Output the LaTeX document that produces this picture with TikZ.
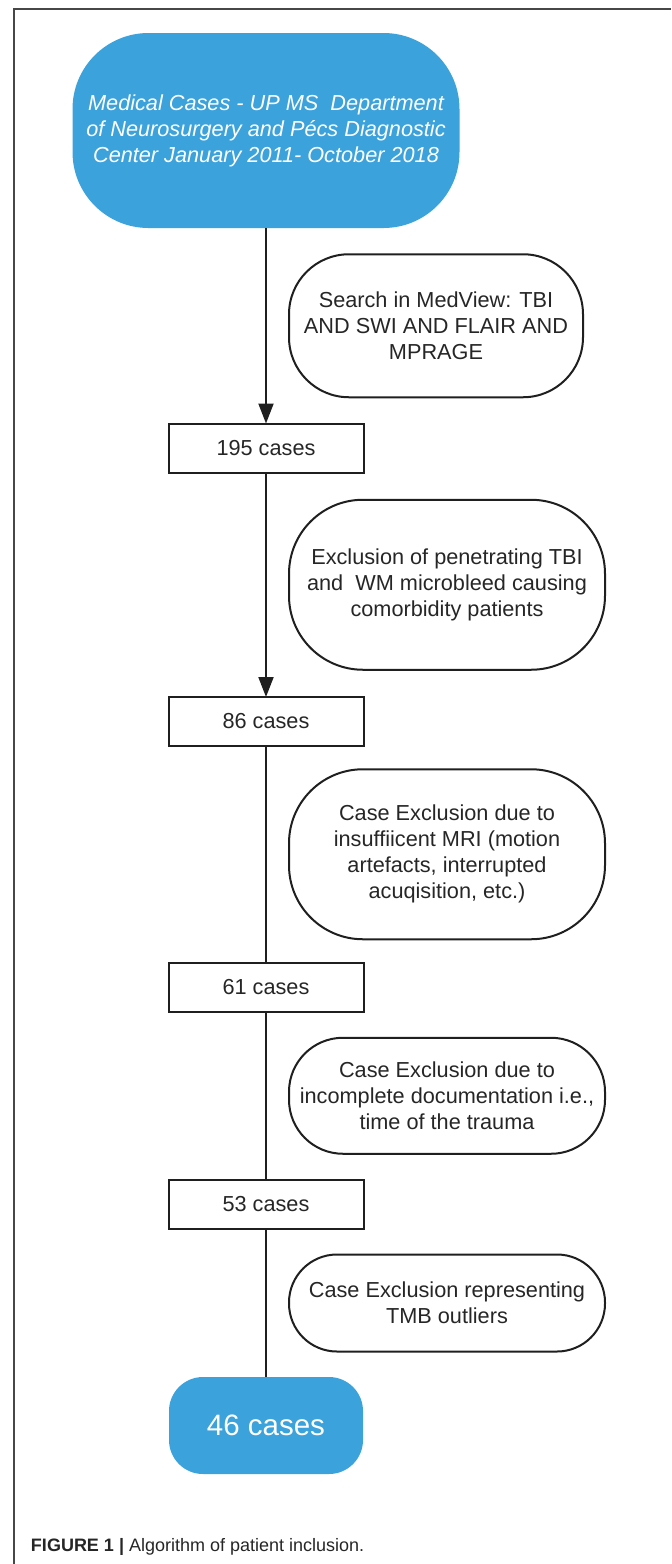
\documentclass[tikz,border=0pt]{standalone}
\usepackage{fontspec}
\setmainfont{Liberation Sans}
\usetikzlibrary{positioning,arrows.meta}
\definecolor{caseBlue}{RGB}{59,162,220}
\colorlet{flowLine}{black!88}
\colorlet{flowText}{black!85}
\colorlet{frameLine}{black!72}

\begin{document}
\begin{tikzpicture}[
  x=0.5pt,
  y=-0.5pt,
  every node/.style={
    font=\fontsize{10.85pt}{13pt}\selectfont,
    text=flowText,
    align=center,
    inner sep=0pt,
    outer sep=0pt,
  },
  terminal/.style={
    fill=caseBlue,
    text=white,
    rounded corners=#1,
  },
  count box/.style={
    draw=flowLine,
    line width=1pt,
    minimum width=97.5pt,
    minimum height=24.5pt,
  },
  filter note/.style={
    draw=flowLine,
    line width=1pt,
    minimum width=158pt,
    rounded corners=#1,
  },
  flow/.style={
    draw=flowLine,
    line width=1pt,
  },
  flow arrow/.style={
    flow,
    -{Triangle[length=10pt,width=7.5pt]},
  }
]
\useasboundingbox (0,0) rectangle (671,1564);
\draw[frameLine,line width=1.2pt] (14,1564) -- (14,9) -- (671,9);

\node[terminal=38pt,minimum width=193.5pt,minimum height=97.5pt,
  font=\itshape\fontsize{10.85pt}{13pt}\selectfont] (source) at (266,130.5)
  {Medical Cases - UP MS\ \ Department\\of Neurosurgery and Pécs Diagnostic\\Center January 2011- October 2018};
\node[count box,below=97.75pt of source] (c195) {195 cases};
\node[count box,below=112.25pt of c195] (c86) {86 cases};
\node[count box,below=108.25pt of c86] (c61) {61 cases};
\node[count box,below=84.25pt of c61] (c53) {53 cases};
\node[terminal=17pt,minimum width=97pt,minimum height=48.5pt,
  font=\fontsize{14.75pt}{17pt}\selectfont,below=74pt of c53] (c46) {46 cases};

\draw[flow arrow] (source) -- node[filter note=30pt,minimum width=147pt,minimum height=71.5pt,right=11.5pt] (search)
  {Search in MedView: TBI\\AND SWI AND FLAIR AND\\MPRAGE} (c195);
\draw[flow arrow] (c195) -- node[filter note=37pt,minimum height=85pt,right=11.5pt] (penetrating)
  {Exclusion of penetrating TBI\\and\ \ WM microbleed causing\\comorbidity patients} (c86);
\draw[flow] (c86) -- node[filter note=37pt,minimum height=85pt,right=11.5pt] (insufficient)
  {Case Exclusion due to\\insuffiicent MRI (motion\\artefacts, interrupted\\acuqisition, etc.)} (c61);
\draw[flow] (c61) -- node[filter note=27pt,minimum height=58pt,right=11.5pt] (documentation)
  {Case Exclusion due to\\incomplete documentation i.e.,\\time of the trauma} (c53);
\draw[flow] (c53) -- node[filter note=24pt,minimum height=48.5pt,right=11.5pt] (outliers)
  {Case Exclusion representing\\TMB outliers} (c46);

\node[anchor=west,font=\fontsize{9pt}{11pt}\selectfont] (caption) at (31,1547)
  {\textbf{FIGURE 1 |} Algorithm of patient inclusion.};
\end{tikzpicture}
\end{document}
